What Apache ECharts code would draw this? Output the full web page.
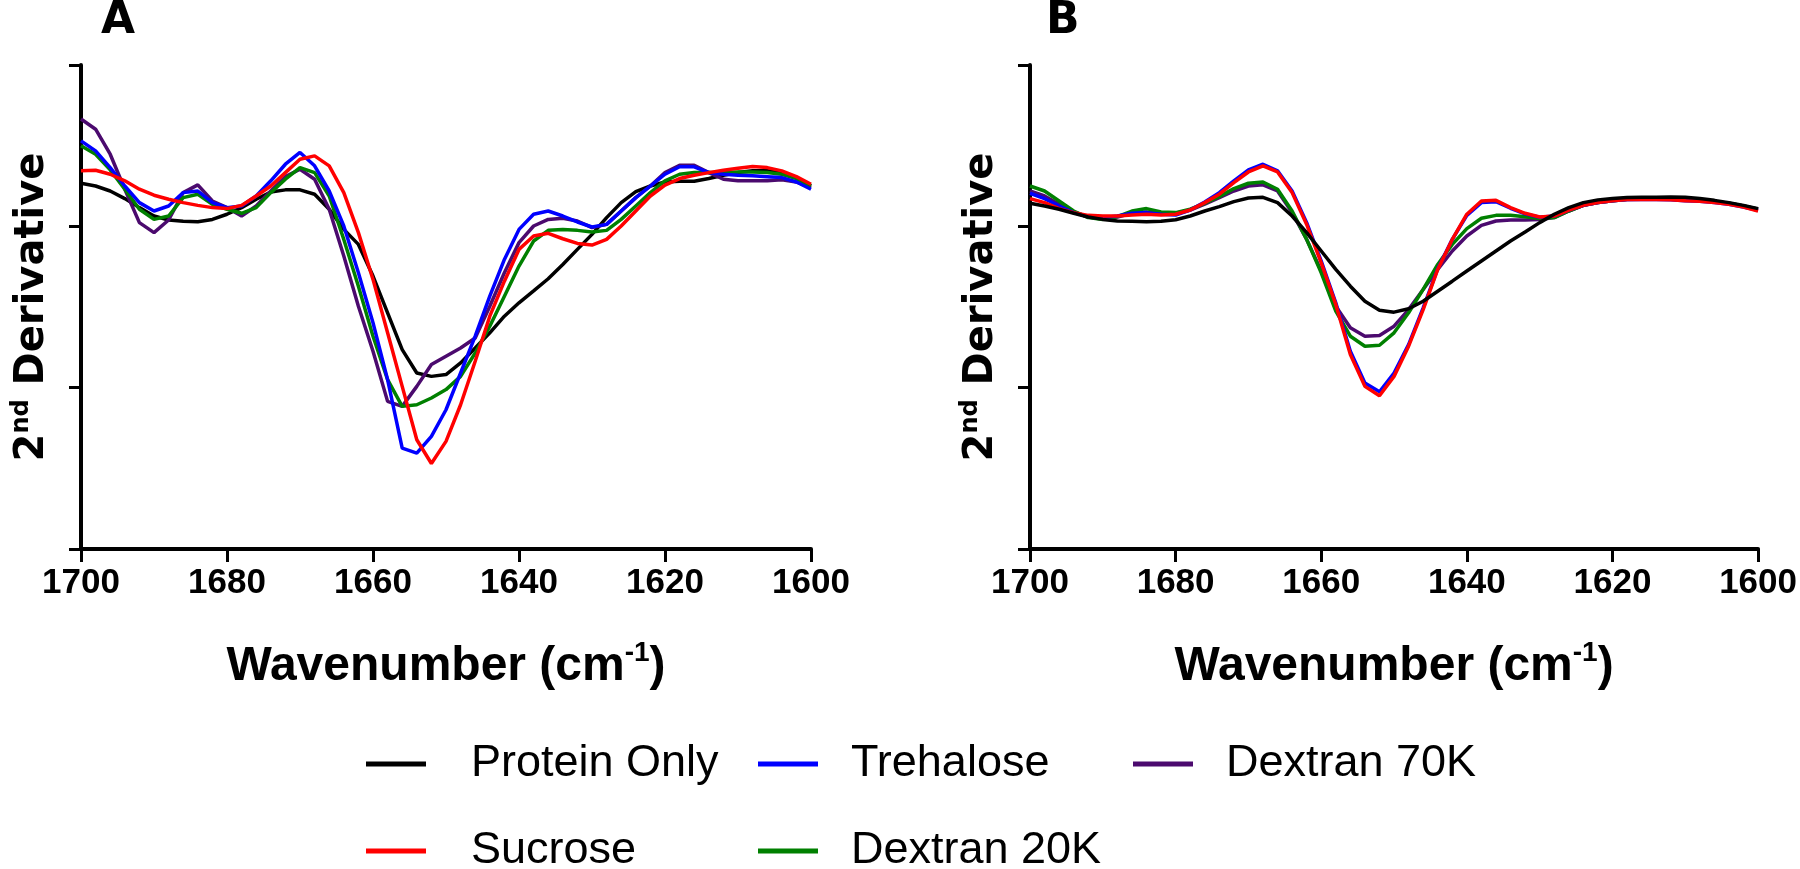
<!DOCTYPE html>
<html>
<head>
<meta charset="utf-8">
<script src="https://cdn.jsdelivr.net/npm/echarts@6/dist/echarts.min.js"></script>
<style>
html,body{margin:0;padding:0;background:#fff;}
#chart{width:1800px;height:869px;}
</style>
</head>
<body>
<div id="chart"></div>
<script>
// Wavenumbers (cm-1), 1700 -> 1600 in steps of 2
const wavenumbers = [1700,1698,1696,1694,1692,1690,1688,1686,1684,1682,1680,1678,1676,1674,1672,1670,1668,1666,1664,
  1662,1660,1658,1656,1654,1652,1650,1648,1646,1644,1642,1640,1638,1636,1634,1632,1630,1628,1626,1624,1622,1620,
  1618,1616,1614,1612,1610,1608,1606,1604,1602,1600];
const xTicks = [1700,1680,1660,1640,1620,1600];
const seriesNames = ['Protein Only','Trehalose','Dextran 70K','Sucrose','Dextran 20K'];

// Panel A
const A_protein = [0.267,0.25,0.219,0.172,0.116,0.064,0.039,0.031,0.029,0.043,0.075,0.116,0.168,0.213,0.226,0.226,0.199,0.106,-0.019,
  -0.112,-0.308,-0.536,-0.764,-0.909,-0.93,-0.919,-0.847,-0.754,-0.66,-0.557,-0.474,-0.4,-0.325,-0.236,-0.143,-0.05,0.054,0.147,0.215,0.25,0.275,
  0.28,0.28,0.296,0.317,0.333,0.344,0.344,0.333,0.302,0.25];
const A_sucrose = [0.344,0.348,0.323,0.282,0.23,0.193,0.168,0.147,0.13,0.116,0.11,0.13,0.188,0.25,0.333,0.416,0.437,0.375,0.209,
  -0.039,-0.329,-0.66,-0.992,-1.323,-1.47,-1.333,-1.106,-0.836,-0.557,-0.34,-0.143,-0.06,-0.043,-0.077,-0.106,-0.116,-0.081,0.002,0.095,0.188,0.255,
  0.296,0.317,0.333,0.348,0.36,0.371,0.364,0.344,0.308,0.261];
const A_trehalose = [0.53,0.468,0.364,0.25,0.147,0.095,0.126,0.209,0.219,0.147,0.116,0.126,0.188,0.282,0.385,0.458,0.375,0.219,0.002,
  -0.288,-0.598,-0.95,-1.375,-1.406,-1.302,-1.137,-0.909,-0.681,-0.433,-0.205,-0.019,0.075,0.095,0.064,0.027,-0.004,0.012,0.095,0.178,0.25,0.323,
  0.369,0.369,0.333,0.323,0.317,0.313,0.308,0.302,0.275,0.23];
const A_dextran70 = [0.665,0.602,0.447,0.23,0.023,-0.039,0.039,0.209,0.257,0.157,0.116,0.064,0.126,0.219,0.308,0.354,0.292,0.106,-0.184,
  -0.495,-0.774,-1.085,-1.116,-0.992,-0.857,-0.805,-0.754,-0.692,-0.495,-0.288,-0.101,0.002,0.043,0.05,0.033,-0.008,0.012,0.095,0.178,0.25,0.333,
  0.379,0.379,0.333,0.292,0.282,0.282,0.282,0.288,0.275,0.24];
const A_dextran20 = [0.499,0.447,0.35,0.23,0.106,0.043,0.064,0.178,0.199,0.137,0.106,0.081,0.116,0.209,0.292,0.364,0.333,0.188,-0.081,
  -0.371,-0.681,-0.95,-1.116,-1.106,-1.064,-1.012,-0.93,-0.785,-0.619,-0.433,-0.246,-0.091,-0.025,-0.019,-0.025,-0.035,-0.025,0.043,0.126,0.209,0.282,
  0.323,0.333,0.333,0.333,0.337,0.337,0.333,0.323,0.296,0.25];

// Panel B
const B_protein = [0.143,0.126,0.106,0.081,0.058,0.043,0.033,0.031,0.029,0.031,0.041,0.064,0.095,0.122,0.153,0.176,0.18,0.147,0.064,
  -0.039,-0.153,-0.267,-0.371,-0.464,-0.52,-0.532,-0.511,-0.464,-0.402,-0.34,-0.277,-0.215,-0.153,-0.091,-0.035,0.023,0.075,0.116,0.147,0.164,0.172,
  0.178,0.18,0.18,0.182,0.18,0.172,0.161,0.147,0.13,0.11];
const B_sucrose = [0.172,0.147,0.11,0.085,0.068,0.064,0.064,0.07,0.075,0.07,0.075,0.101,0.147,0.199,0.271,0.337,0.375,0.337,0.209,
  0.012,-0.226,-0.484,-0.795,-0.992,-1.05,-0.93,-0.743,-0.516,-0.267,-0.081,0.075,0.157,0.161,0.116,0.081,0.058,0.064,0.101,0.13,0.147,0.159,
  0.166,0.168,0.166,0.164,0.159,0.155,0.147,0.137,0.12,0.095];
const B_trehalose = [0.205,0.172,0.126,0.085,0.06,0.054,0.064,0.081,0.085,0.075,0.07,0.101,0.151,0.209,0.282,0.35,0.385,0.344,0.219,
  0.023,-0.215,-0.474,-0.774,-0.971,-1.025,-0.909,-0.733,-0.505,-0.263,-0.081,0.068,0.147,0.153,0.112,0.077,0.056,0.064,0.101,0.13,0.147,0.159,
  0.166,0.168,0.166,0.164,0.159,0.155,0.147,0.137,0.12,0.1];
const B_dextran70 = [0.219,0.188,0.137,0.089,0.058,0.048,0.058,0.081,0.089,0.081,0.081,0.101,0.137,0.178,0.219,0.25,0.257,0.219,0.085,
  -0.081,-0.277,-0.495,-0.629,-0.681,-0.677,-0.619,-0.516,-0.391,-0.267,-0.153,-0.06,0.006,0.033,0.039,0.039,0.043,0.054,0.095,0.13,0.147,0.159,
  0.166,0.168,0.168,0.168,0.166,0.162,0.153,0.143,0.126,0.106];
const B_dextran20 = [0.25,0.219,0.157,0.095,0.054,0.043,0.06,0.095,0.11,0.089,0.085,0.106,0.143,0.184,0.234,0.267,0.275,0.23,0.095,
  -0.081,-0.288,-0.526,-0.681,-0.743,-0.737,-0.66,-0.536,-0.391,-0.236,-0.112,-0.014,0.05,0.068,0.068,0.06,0.048,0.054,0.095,0.13,0.147,0.159,
  0.168,0.172,0.172,0.172,0.168,0.164,0.153,0.143,0.126,0.106];

const colors = {
  'Protein Only': '#000000',
  'Trehalose': '#0000ff',
  'Dextran 70K': '#4b0a6e',
  'Sucrose': '#ff0000',
  'Dextran 20K': '#008000'
};

function pairs(vals){ return wavenumbers.map((w,i)=>[w, vals[i]]); }

function lineSeries(name, vals, gi, z){
  return {
    name: name, type: 'line', xAxisIndex: gi, yAxisIndex: gi,
    data: pairs(vals), showSymbol: false, symbol: 'none', smooth: false,
    lineStyle: {color: colors[name], width: 3.5},
    itemStyle: {color: colors[name]},
    z: z, animation: false
  };
}

const axisFont = "'Liberation Sans', Arial, sans-serif";
const yNameFont = "'DejaVu Sans', Verdana, sans-serif";

function xAxis(gi){
  return {
    gridIndex: gi, type: 'value', min: 1600, max: 1700, interval: 20, inverse: true,
    axisLine: {show: true, onZero: false, lineStyle: {color: '#000', width: 4}},
    axisTick: {show: true, length: 13, lineStyle: {color: '#000', width: 3}},
    axisLabel: {show: true, margin: 17, color: '#000', fontFamily: axisFont, fontWeight: 'bold', fontSize: 35,
      formatter: v => xTicks.indexOf(v) >= 0 ? String(v) : ''},
    splitLine: {show: false},
    name: '{t|Wavenumber (cm}{s|-1}{t|)}',
    nameLocation: 'middle', nameGap: 90,
    nameTextStyle: {
      rich: {
        t: {fontFamily: axisFont, fontWeight: 'bold', fontSize: 48, color: '#000', lineHeight: 56},
        s: {fontFamily: axisFont, fontWeight: 'bold', fontSize: 28, color: '#000', verticalAlign: 'top', lineHeight: 56, padding: [0,0,18,0]}
      }
    }
  };
}
function yAxis(gi){
  return {
    gridIndex: gi, type: 'value', min: -2, max: 1, interval: 1,
    axisLine: {show: true, lineStyle: {color: '#000', width: 4}},
    axisTick: {show: true, length: 12, lineStyle: {color: '#000', width: 3}},
    axisLabel: {show: false},
    splitLine: {show: false},
    name: '{t|2}{s|nd}{t| Derivative}',
    nameLocation: 'middle', nameRotate: 90, nameGap: 25,
    nameTextStyle: {
      rich: {
        t: {fontFamily: yNameFont, fontWeight: 'bold', fontSize: 40, color: '#000', lineHeight: 46},
        s: {fontFamily: yNameFont, fontWeight: 'bold', fontSize: 24, color: '#000', verticalAlign: 'top', lineHeight: 46, padding: [0,0,16,0]}
      }
    }
  };
}

function legendItem(name, left, top, pad){
  return {
    data: [name], left: left, top: top, orient: 'horizontal',
    icon: 'rect', itemWidth: 60, itemHeight: 5, padding: 0,
    textStyle: {fontFamily: axisFont, fontSize: 45, color: '#000', lineHeight: 50, padding: [0,0,0,pad]},
    selectedMode: false
  };
}

const option = {
  backgroundColor: '#ffffff',
  animation: false,
  title: [
    {text: 'A', left: 101, top: 0, padding: 0, textStyle: {fontFamily: yNameFont, fontWeight: 'bold', fontSize: 44, color: '#000'}},
    {text: 'B', left: 1046, top: 0, padding: 0, textStyle: {fontFamily: yNameFont, fontWeight: 'bold', fontSize: 44, color: '#000'}}
  ],
  grid: [
    {left: 81, width: 730, top: 65, height: 484},
    {left: 1030, width: 729, top: 65, height: 484}
  ],
  xAxis: [xAxis(0), xAxis(1)],
  yAxis: [yAxis(0), yAxis(1)],
  legend: [
    legendItem('Protein Only', 366, 739, 40),
    legendItem('Trehalose', 758, 739, 28),
    legendItem('Dextran 70K', 1133, 739, 28),
    legendItem('Sucrose', 366, 826, 40),
    legendItem('Dextran 20K', 758, 826, 28)
  ],
  series: [
    lineSeries('Protein Only', A_protein, 0, 2),
    lineSeries('Dextran 70K', A_dextran70, 0, 3),
    lineSeries('Dextran 20K', A_dextran20, 0, 4),
    lineSeries('Trehalose', A_trehalose, 0, 5),
    lineSeries('Sucrose', A_sucrose, 0, 6),
    lineSeries('Dextran 70K', B_dextran70, 1, 2),
    lineSeries('Dextran 20K', B_dextran20, 1, 3),
    lineSeries('Trehalose', B_trehalose, 1, 4),
    lineSeries('Sucrose', B_sucrose, 1, 5),
    lineSeries('Protein Only', B_protein, 1, 6)
  ]
};

const chart = echarts.init(document.getElementById('chart'), null, {renderer: 'canvas'});
chart.setOption(option);
</script>
</body>
</html>
